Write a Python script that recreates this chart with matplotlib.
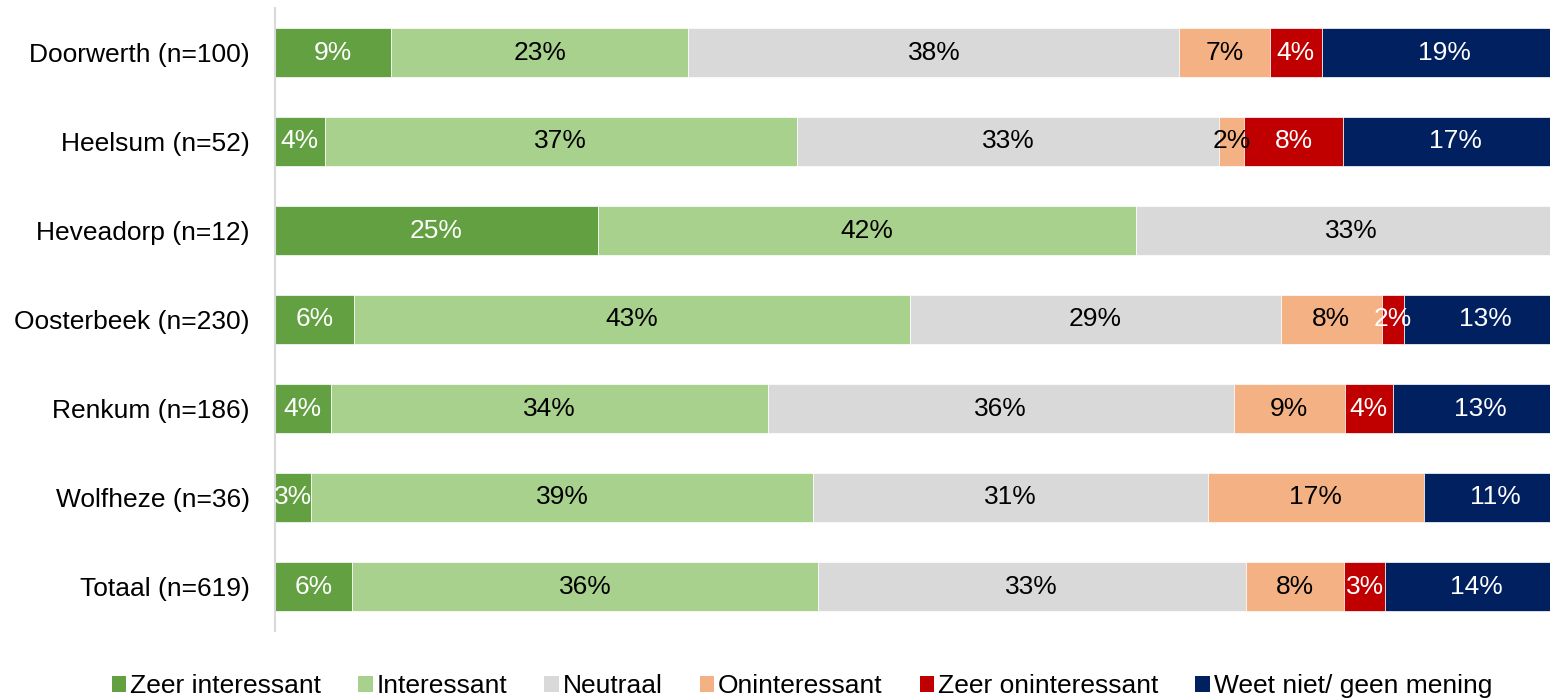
import numpy as np
import matplotlib.pyplot as plt
from matplotlib.patches import Patch

plt.rcParams['font.family'] = ['Liberation Sans', 'DejaVu Sans']

# 数据
plaatsen = ["Doorwerth (n=100)", "Heelsum (n=52)", "Heveadorp (n=12)", "Oosterbeek (n=230)",
            "Renkum (n=186)", "Wolfheze (n=36)", "Totaal (n=619)"]
categorieen = ["Zeer interessant", "Interessant", "Neutraal", "Oninteressant",
               "Zeer oninteressant", "Weet niet/ geen mening"]

zeer_interessant = [9.0, 3.85, 25.0, 6.09, 4.30, 2.78, 5.98]
interessant = [23.0, 36.54, 41.67, 43.04, 33.87, 38.89, 36.03]
neutraal = [38.0, 32.69, 33.33, 28.70, 36.02, 30.56, 33.12]
oninteressant = [7.0, 1.92, 0.0, 7.83, 8.60, 16.67, 7.59]
zeer_oninteressant = [4.0, 7.69, 0.0, 1.74, 3.76, 0.0, 3.23]
weet_niet = [19.0, 17.31, 0.0, 12.61, 13.44, 11.11, 14.05]

series = [zeer_interessant, interessant, neutraal, oninteressant, zeer_oninteressant, weet_niet]
kleuren = ['#63A042', '#A9D18E', '#D9D9D9', '#F4B183', '#C00000', '#002060']
tekstkleuren = ['white', 'black', 'black', 'black', 'white', 'white']

fs = 19

fig = plt.figure(figsize=(15.5, 7), dpi=100)
# 100% valt net buiten de rechterrand, zoals in het origineel
ax = fig.add_axes([275 / 1550, 69 / 700, 1292 / 1550, 623 / 700])

y = np.arange(len(plaatsen))
links = np.zeros(len(plaatsen))
for waarden, kleur, tk in zip(series, kleuren, tekstkleuren):
    waarden = np.array(waarden)
    ax.barh(y, waarden, left=links, height=0.55, color=kleur, edgecolor='white', linewidth=0.5)
    for yi, (l, w) in enumerate(zip(links, waarden)):
        if w > 0:
            ax.text(l + w / 2, yi, f"{round(w + 1e-9):d}%", ha='center', va='center',
                    color=tk, fontsize=fs)
    links += waarden

ax.set_xlim(0, 100)
ax.set_ylim(len(plaatsen) - 0.5, -0.5)
ax.set_yticks(y)
ax.set_yticklabels(plaatsen, fontsize=fs)
ax.tick_params(axis='y', length=0, pad=18)
ax.set_xticks([])
for s in ['top', 'right', 'bottom']:
    ax.spines[s].set_visible(False)
ax.spines['left'].set_color('#D9D9D9')
ax.spines['left'].set_linewidth(1.5)

handles = [Patch(facecolor=k, edgecolor='none') for k in kleuren]
fig.legend(handles, categorieen, loc='center', bbox_to_anchor=(802 / 1550, 14 / 700), ncol=6,
           frameon=False, fontsize=fs, handlelength=0.55, handleheight=0.55,
           handletextpad=0.15, columnspacing=1.4, borderpad=0)

fig.savefig("out.png", dpi=100)
